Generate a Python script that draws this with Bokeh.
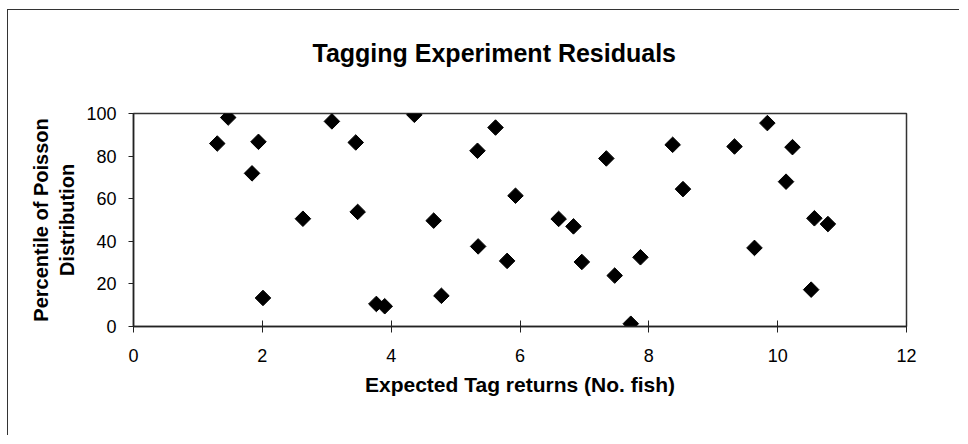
import numpy as np
from bokeh.plotting import figure
from bokeh.models import Range1d, FixedTicker, ColumnDataSource, Title
from bokeh.embed import file_html
from bokeh.resources import INLINE

# Data
expected_returns = [1.30, 1.47, 1.84, 1.94, 2.01, 2.63, 3.08, 3.45, 3.48, 3.77,
                    3.90, 4.36, 4.66, 4.78, 5.34, 5.35, 5.62, 5.80, 5.93, 6.60,
                    6.83, 6.96, 7.34, 7.47, 7.72, 7.87, 8.37, 8.53, 9.33, 9.64,
                    9.84, 10.13, 10.23, 10.52, 10.57, 10.78]
percentile = [85.9, 98.1, 71.9, 86.7, 13.4, 50.6, 96.3, 86.4, 53.8, 10.6,
              9.5, 99.4, 49.7, 14.4, 82.5, 37.6, 93.4, 30.8, 61.4, 50.5,
              47.0, 30.3, 78.9, 23.9, 1.3, 32.5, 85.3, 64.5, 84.5, 36.9,
              95.5, 68.0, 84.2, 17.3, 50.8, 48.1]
x_ticks = [0, 2, 4, 6, 8, 10, 12]
y_ticks = [0, 20, 40, 60, 80, 100]
title_text = "Tagging Experiment Residuals"

FONT = "Liberation Sans"

p = figure(width=952, height=426, output_backend="svg", toolbar_location=None,
           x_range=Range1d(0, 12), y_range=Range1d(0, 100),
           title=None,
           min_border_left=125, min_border_right=54,
           min_border_top=103, min_border_bottom=110)

p.styles = {"border-left": "1px solid #333", "border-top": "1px solid #333",
            "margin-left": "7px", "margin-top": "9px"}

# spacer between title and frame (closest to the frame)
p.add_layout(Title(text=" ", text_font_size="10px", standoff=33), "above")
# real title (outermost)
p.add_layout(Title(text=title_text, text_font=FONT, text_font_size="25px",
                   text_font_style="bold", align="left", offset=179,
                   text_color="black", standoff=2), "above")

src = ColumnDataSource(dict(x=expected_returns, y=percentile))
p.scatter("x", "y", source=src, marker="square", angle=np.pi / 4, size=11,
          fill_color="black", line_color="black")

p.xgrid.visible = False
p.ygrid.visible = False
p.outline_line_color = "#333333"
p.outline_line_width = 1.5
p.background_fill_color = "white"
p.border_fill_color = "white"

xa = p.xaxis[0]
xa.ticker = FixedTicker(ticks=x_ticks)
xa.axis_label = "Expected Tag returns (No. fish)"
xa.major_tick_in = 6
xa.major_tick_out = 6
xa.minor_tick_in = 0
xa.minor_tick_out = 0
xa.major_label_standoff = 16
xa.axis_label_standoff = 8

ya = p.yaxis[0]
ya.ticker = FixedTicker(ticks=y_ticks)
ya.axis_label = "Percentile of Poisson\nDistribution"
ya.major_tick_in = 0
ya.major_tick_out = 5
ya.minor_tick_in = 0
ya.minor_tick_out = 0
ya.major_label_standoff = 12
ya.axis_label_standoff = 5

for ax in (xa, ya):
    ax.axis_line_color = "#222222"
    ax.axis_line_width = 1.5
    ax.major_tick_line_color = "#222222"
    ax.major_label_text_font = FONT
    ax.major_label_text_font_size = "18px"
    ax.major_label_text_color = "black"
    ax.axis_label_text_font = FONT
    ax.axis_label_text_font_style = "bold"
    ax.axis_label_text_color = "black"

xa.axis_label_text_font_size = "21px"
ya.axis_label_text_font_size = "20px"

open("out.html", "w").write(file_html(p, INLINE))
